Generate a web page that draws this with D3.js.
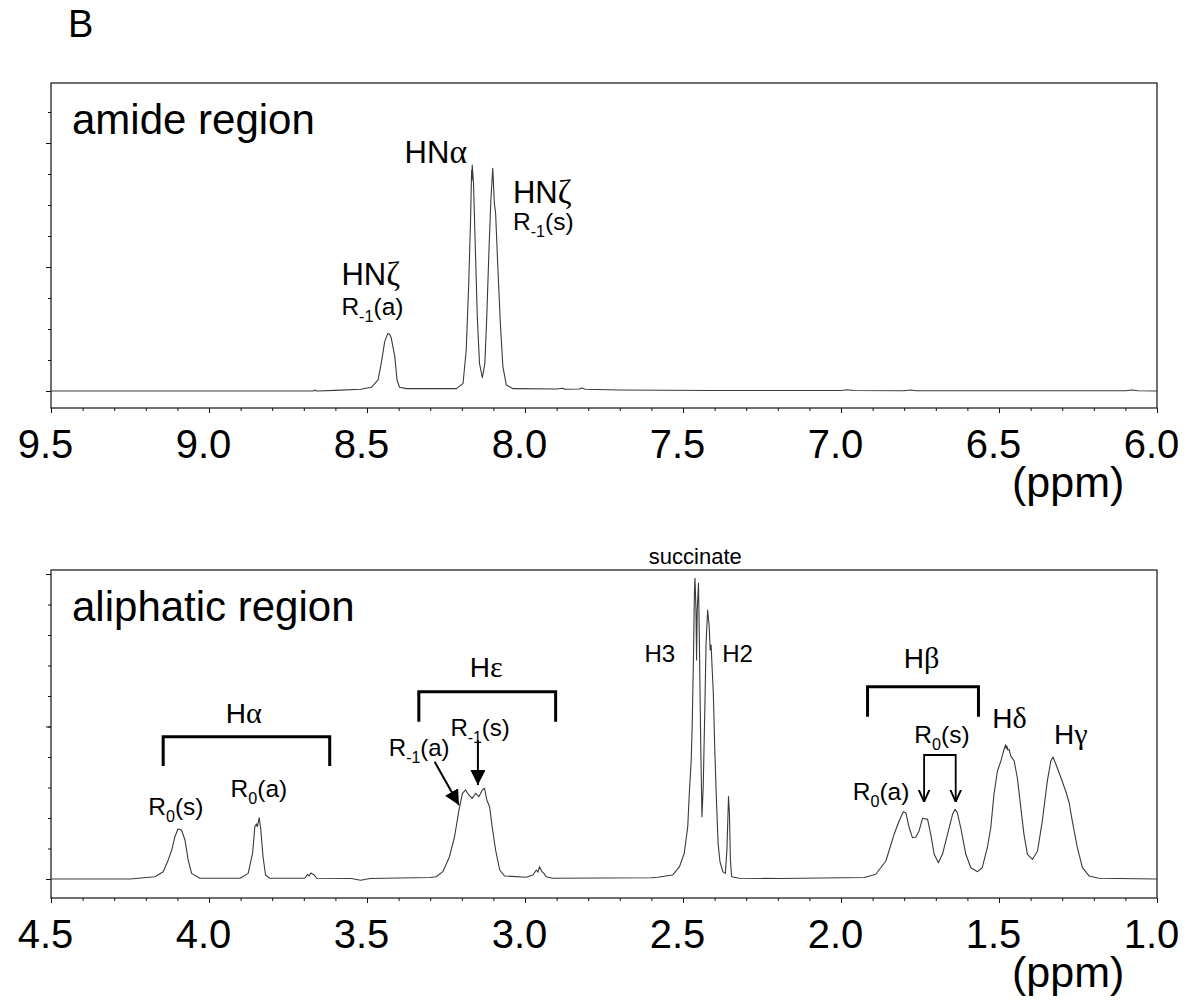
<!DOCTYPE html>
<html>
<head>
<meta charset="utf-8">
<script src="https://cdn.jsdelivr.net/npm/d3@7"></script>
<style>
  body { margin: 0; background: #fff; }
  svg { display: block; }
  text { font-family: "Liberation Sans", Arial, sans-serif; fill: #000; }
</style>
</head>
<body>
<div id="chart"></div>
<script>
// 1H spectrum traces: [chemical shift (ppm), intensity (a.u.)]
const amideSpectrum = [
  [9.50, 0.000], [8.90, 0.000], [8.670, 0.000], [8.665, 0.008], [8.660, 0.000],
  [8.600, 0.005], [8.520, 0.014], [8.486, 0.030], [8.465, 0.089], [8.455, 0.223],
  [8.444, 0.398], [8.434, 0.465], [8.428, 0.455], [8.423, 0.425], [8.412, 0.277],
  [8.405, 0.089], [8.397, 0.030], [8.375, 0.019], [8.217, 0.019], [8.196, 0.062],
  [8.186, 0.331], [8.178, 0.869], [8.172, 1.406], [8.169, 1.780], [8.168, 1.700],
  [8.167, 1.823], [8.163, 1.675], [8.157, 1.137], [8.151, 0.599], [8.144, 0.223],
  [8.135, 0.107], [8.127, 0.223], [8.121, 0.599], [8.114, 1.137], [8.108, 1.540],
  [8.102, 1.796], [8.097, 1.514], [8.093, 1.433], [8.086, 1.002], [8.078, 0.546],
  [8.070, 0.196], [8.059, 0.048], [8.038, 0.019], [7.900, 0.016], [7.880, 0.022],
  [7.875, 0.014], [7.830, 0.016], [7.820, 0.024], [7.810, 0.014], [7.700, 0.008],
  [7.400, 0.004], [7.000, 0.004], [6.980, 0.010], [6.960, 0.004], [6.800, 0.002],
  [6.780, 0.008], [6.760, 0.002], [6.100, 0.002], [6.080, 0.008], [6.060, 0.002],
  [6.000, 0.000]
];

const aliphaticSpectrum = [
  [4.500, 0.000], [4.250, 0.000], [4.171, 0.015], [4.145, 0.048], [4.129, 0.125],
  [4.118, 0.190], [4.108, 0.277], [4.098, 0.328], [4.087, 0.321], [4.076, 0.256],
  [4.066, 0.125], [4.055, 0.037], [4.029, 0.005], [3.902, 0.005], [3.876, 0.037],
  [3.862, 0.169], [3.855, 0.343], [3.850, 0.361], [3.847, 0.343], [3.841, 0.402],
  [3.836, 0.321], [3.829, 0.146], [3.821, 0.026], [3.808, 0.005], [3.697, 0.005],
  [3.688, 0.030], [3.683, 0.020], [3.678, 0.040], [3.669, 0.030], [3.659, 0.005],
  [3.550, 0.003], [3.520, -0.008], [3.490, 0.003], [3.300, 0.010], [3.281, 0.015],
  [3.260, 0.048], [3.239, 0.146], [3.223, 0.277], [3.209, 0.452], [3.198, 0.562],
  [3.188, 0.584], [3.178, 0.551], [3.167, 0.529], [3.156, 0.562], [3.146, 0.540],
  [3.135, 0.584], [3.128, 0.595], [3.121, 0.518], [3.112, 0.474], [3.104, 0.343],
  [3.093, 0.190], [3.080, 0.059], [3.065, 0.020], [2.996, 0.011], [2.975, 0.026],
  [2.964, 0.059], [2.959, 0.045], [2.954, 0.081], [2.946, 0.048], [2.940, 0.037],
  [2.933, 0.015], [2.912, 0.005], [2.600, 0.008], [2.580, 0.011], [2.533, 0.026],
  [2.511, 0.081], [2.496, 0.169], [2.485, 0.343], [2.480, 0.562], [2.474, 0.780],
  [2.471, 0.999], [2.467, 1.436], [2.464, 1.873], [2.462, 1.972], [2.459, 1.764],
  [2.457, 1.436], [2.455, 1.764], [2.451, 1.939], [2.448, 1.546], [2.444, 0.890],
  [2.440, 0.409], [2.436, 0.605], [2.431, 1.108], [2.427, 1.546], [2.422, 1.764],
  [2.417, 1.654], [2.414, 1.502], [2.411, 1.534], [2.408, 1.392], [2.404, 1.218],
  [2.400, 0.890], [2.395, 0.562], [2.389, 0.234], [2.383, 0.113], [2.374, 0.048],
  [2.366, 0.037], [2.361, 0.190], [2.356, 0.540], [2.353, 0.431], [2.350, 0.125],
  [2.346, 0.015], [2.322, 0.005], [2.195, 0.003], [1.926, 0.010], [1.890, 0.031],
  [1.858, 0.118], [1.832, 0.293], [1.816, 0.380], [1.803, 0.441], [1.795, 0.435],
  [1.784, 0.336], [1.774, 0.271], [1.763, 0.275], [1.753, 0.315], [1.742, 0.398],
  [1.726, 0.391], [1.716, 0.293], [1.705, 0.162], [1.692, 0.107], [1.679, 0.162],
  [1.663, 0.293], [1.647, 0.424], [1.639, 0.457], [1.632, 0.435], [1.621, 0.336],
  [1.605, 0.162], [1.589, 0.074], [1.568, 0.048], [1.553, 0.074], [1.537, 0.205],
  [1.526, 0.336], [1.516, 0.555], [1.505, 0.708], [1.494, 0.774], [1.484, 0.850],
  [1.479, 0.880], [1.477, 0.855], [1.475, 0.872], [1.472, 0.845], [1.468, 0.850],
  [1.463, 0.807], [1.452, 0.774], [1.442, 0.664], [1.431, 0.468], [1.421, 0.293],
  [1.410, 0.162], [1.394, 0.129], [1.378, 0.184], [1.363, 0.380], [1.347, 0.643],
  [1.336, 0.774], [1.329, 0.800], [1.320, 0.752], [1.304, 0.664], [1.289, 0.577],
  [1.278, 0.500], [1.268, 0.380], [1.252, 0.205], [1.236, 0.074], [1.215, 0.020],
  [1.184, 0.005], [1.000, 0.000]
];

const amideTicks = [9.5, 9.0, 8.5, 8.0, 7.5, 7.0, 6.5, 6.0];
const aliphaticTicks = [4.5, 4.0, 3.5, 3.0, 2.5, 2.0, 1.5, 1.0];

const width = 1187;
const height = 1007;
const left = 51, right = 1157;

const svg = d3.select('#chart').append('svg')
  .attr('width', width)
  .attr('height', height);

svg.append('rect').attr('width', width).attr('height', height).attr('fill', '#fff');

const defs = svg.append('defs');
defs.append('marker') // filled arrow head
  .attr('id', 'solid').attr('viewBox', '0 0 10 10')
  .attr('refX', 10).attr('refY', 5)
  .attr('markerWidth', 15).attr('markerHeight', 15)
  .attr('markerUnits', 'userSpaceOnUse').attr('orient', 'auto')
  .append('path').attr('d', 'M0,0 L10,5 L0,10 z').attr('fill', '#000');
defs.append('marker') // open V arrow head
  .attr('id', 'open').attr('viewBox', '0 0 10 10')
  .attr('refX', 10).attr('refY', 5)
  .attr('markerWidth', 12).attr('markerHeight', 13)
  .attr('markerUnits', 'userSpaceOnUse').attr('orient', 'auto-start-reverse')
  .append('path').attr('d', 'M0,0.5 L10,5 L0,9.5').attr('fill', 'none')
  .attr('stroke', '#000').attr('stroke-width', 1.6);

// little text helper: parts = [text, {sub: '0'}, {greek: 'α'}, ...]
function label(g, x, y, parts, size, anchor) {
  const t = g.append('text')
    .attr('x', x).attr('y', y)
    .attr('font-size', size)
    .attr('text-anchor', anchor || 'start');
  let shifted = 0;
  parts.forEach(p => {
    const s = t.append('tspan');
    if (typeof p === 'string') {
      s.text(p);
      if (shifted) { s.attr('dy', -shifted); shifted = 0; }
    } else if (p.sub !== undefined) {
      const d = Math.round(size * 0.28);
      s.text(p.sub).attr('font-size', size * 0.66).attr('dy', d);
      shifted = d;
    } else if (p.greek !== undefined) {
      s.text(p.greek).attr('font-family', '"Liberation Serif", "Times New Roman", serif')
        .attr('font-size', size * 1.08);
      if (shifted) { s.attr('dy', -shifted); shifted = 0; }
    }
  });
  return t;
}

function panel(cfg) {
  const g = svg.append('g');
  const x = d3.scaleLinear().domain(cfg.domain).range([left, right]);
  const y = d3.scaleLinear().domain([0, 1]).range([cfg.y0, cfg.y0 - cfg.unit]);

  // frame
  g.append('rect')
    .attr('x', left).attr('y', cfg.top)
    .attr('width', right - left).attr('height', cfg.bottom - cfg.top)
    .attr('fill', 'none').attr('stroke', '#111').attr('stroke-width', 1.2);

  // y ticks (no labels)
  const yMinor = d3.range(0, cfg.yMax + 1e-6, cfg.minorStep);
  g.append('g').attr('transform', `translate(${left},0)`)
    .call(d3.axisLeft(y).tickValues(yMinor).tickSize(3).tickFormat(''))
    .call(a => a.select('.domain').remove());
  g.append('g').attr('transform', `translate(${left},0)`)
    .call(d3.axisLeft(y).tickValues(d3.range(0, cfg.yMax + 1e-6, 1)).tickSize(5).tickFormat(''))
    .call(a => a.select('.domain').remove());

  // x ticks
  const lo = Math.min(...cfg.domain), hi = Math.max(...cfg.domain);
  const xMinor = d3.range(Math.round(lo * 10), Math.round(hi * 10) + 1).map(v => v / 10);
  g.append('g').attr('transform', `translate(0,${cfg.bottom})`)
    .call(d3.axisBottom(x).tickValues(xMinor).tickSize(3).tickFormat(''))
    .call(a => a.select('.domain').remove());
  const xAxis = g.append('g').attr('transform', `translate(0,${cfg.bottom})`)
    .call(d3.axisBottom(x).tickValues(cfg.ticks).tickSize(5).tickFormat(d3.format('.1f')));
  xAxis.select('.domain').remove();
  xAxis.selectAll('text')
    .attr('y', 50).attr('dy', null).attr('dx', -6)
    .attr('font-size', 40)
    .attr('font-family', '"Liberation Sans", Arial, sans-serif')
    .attr('fill', '#000');
  g.selectAll('.tick line').attr('stroke', '#111');

  label(g, 1012, cfg.bottom + 89, ['(ppm)'], 43);

  // spectrum
  const line = d3.line().x(d => x(d[0])).y(d => y(d[1]));
  g.append('path')
    .datum(cfg.data)
    .attr('d', line)
    .attr('fill', 'none')
    .attr('stroke', '#3a3a3a')
    .attr('stroke-width', 1.1)
    .attr('stroke-linejoin', 'round');

  label(g, left + 21, cfg.top + 51, [cfg.title], 42);
  return { g, x, y };
}

// letter of the figure
svg.append('text').attr('x', 68).attr('y', 37)
  .attr('font-size', 38).attr('font-family', '"Open Sans", Lato, sans-serif')
  .text('B');

// top: amide region
const A = panel({
  domain: [9.5, 6.0], top: 83, bottom: 408, y0: 391, unit: 124,
  minorStep: 0.25, yMax: 2.25, ticks: amideTicks, data: amideSpectrum,
  title: 'amide region'
});
label(A.g, A.x(8.381), A.y(1.839), ['HN', {greek: 'α'}], 31);
label(A.g, A.x(8.581), A.y(0.855), ['HN', {greek: 'ζ'}], 31);
label(A.g, A.x(8.581), A.y(0.613), ['R', {sub: '-1'}, '(a)'], 24.5);
label(A.g, A.x(8.038), A.y(1.514), ['HN', {greek: 'ζ'}], 31);
label(A.g, A.x(8.038), A.y(1.298), ['R', {sub: '-1'}, '(s)'], 24.5);

// bottom: aliphatic region
const B = panel({
  domain: [4.5, 1.0], top: 570, bottom: 898, y0: 879, unit: 152.5,
  minorStep: 0.2, yMax: 2.0, ticks: aliphaticTicks, data: aliphaticSpectrum,
  title: 'aliphatic region'
});

function bracket(p, from, to, top, legs) {
  p.g.append('path')
    .attr('d', `M${p.x(from)},${p.y(legs)} V${p.y(top)} H${p.x(to)} V${p.y(legs)}`)
    .attr('fill', 'none').attr('stroke', '#000').attr('stroke-width', 3);
}

// H-alpha group
bracket(B, 4.145, 3.618, 0.933, 0.741);
label(B.g, B.x(3.890), B.y(1.025), ['H', {greek: 'α'}], 28, 'middle');
label(B.g, B.x(4.105), B.y(0.420), ['R', {sub: '0'}, '(s)'], 24.5, 'middle');
label(B.g, B.x(3.842), B.y(0.540), ['R', {sub: '0'}, '(a)'], 24.5, 'middle');

// H-epsilon group
bracket(B, 3.336, 2.903, 1.228, 1.031);
label(B.g, B.x(3.123), B.y(1.327), ['H', {greek: 'ε'}], 28, 'middle');
label(B.g, B.x(3.431), B.y(0.805), ['R', {sub: '-1'}, '(a)'], 24);
label(B.g, B.x(3.236), B.y(0.940), ['R', {sub: '-1'}, '(s)'], 24);
B.g.append('line')
  .attr('x1', B.x(3.286)).attr('y1', B.y(0.769))
  .attr('x2', B.x(3.209)).attr('y2', B.y(0.485))
  .attr('stroke', '#000').attr('stroke-width', 2).attr('marker-end', 'url(#solid)');
B.g.append('line')
  .attr('x1', B.x(3.149)).attr('y1', B.y(0.911))
  .attr('x2', B.x(3.149)).attr('y2', B.y(0.616))
  .attr('stroke', '#000').attr('stroke-width', 2).attr('marker-end', 'url(#solid)');

// succinate
label(B.g, B.x(2.461), B.y(2.066), ['succinate'], 22, 'middle');
label(B.g, B.x(2.622), B.y(1.425), ['H3'], 24);
label(B.g, B.x(2.376), B.y(1.425), ['H2'], 24);

// H-beta group
bracket(B, 1.916, 1.565, 1.261, 1.064);
label(B.g, B.x(1.745), B.y(1.382), ['H', {greek: 'β'}], 28, 'middle');
label(B.g, B.x(1.768), B.y(0.890), ['R', {sub: '0'}, '(s)'], 24.5);
label(B.g, B.x(1.963), B.y(0.518), ['R', {sub: '0'}, '(a)'], 24.5);
B.g.append('path')
  .attr('d', `M${B.x(1.737)},${B.y(0.507)} V${B.y(0.813)} H${B.x(1.637)} V${B.y(0.507)}`)
  .attr('fill', 'none').attr('stroke', '#000').attr('stroke-width', 1.8)
  .attr('marker-start', 'url(#open)').attr('marker-end', 'url(#open)');

label(B.g, B.x(1.521), B.y(0.988), ['H', {greek: 'δ'}], 28);
label(B.g, B.x(1.326), B.y(0.885), ['H', {greek: 'γ'}], 28);
</script>
</body>
</html>
